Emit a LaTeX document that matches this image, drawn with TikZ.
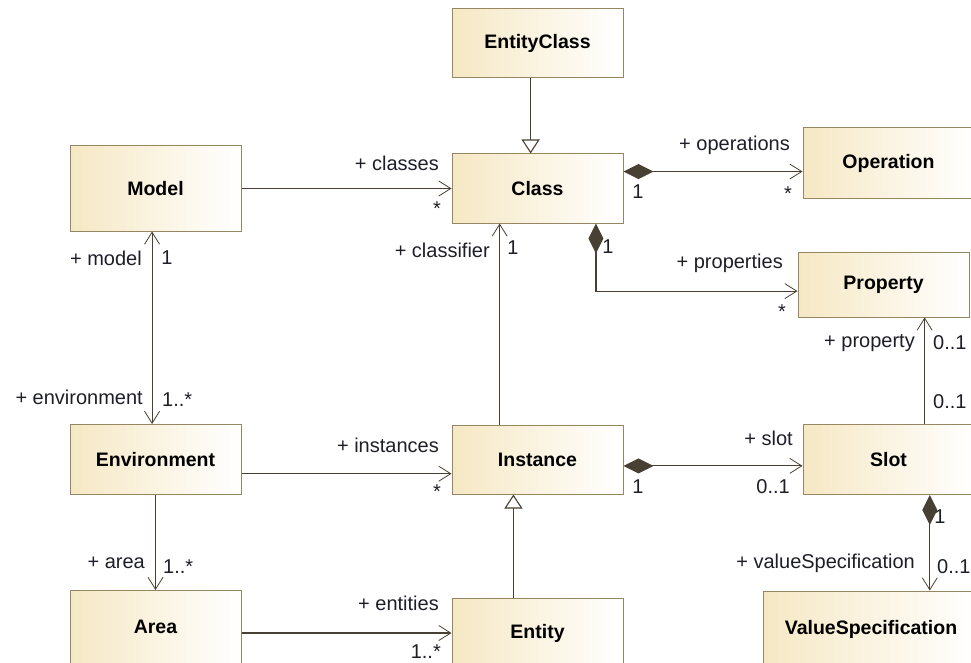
\documentclass[tikz,border=0pt]{standalone}
\usepackage{fontspec}
\setsansfont{Liberation Sans}
\usetikzlibrary{positioning}
\usetikzlibrary{arrows.meta}
\usetikzlibrary{calc}
\definecolor{umlfill}{RGB}{246,232,196}
\definecolor{umlborder}{RGB}{150,135,100}
\definecolor{umlline}{RGB}{72,64,50}
\definecolor{umltext}{RGB}{30,30,40}
\tikzset{%
	% Specifications for style of nodes:
	umlclass/.style = {rectangle, draw=umlborder, line width=1pt,
		left color=umlfill, right color=white,
		minimum width=171pt, minimum height=69pt, inner sep=0pt,
		font=\sffamily\bfseries\fontsize{19.5}{22}\selectfont},
	role/.style = {inner sep=0pt, text=umltext,
		font=\sffamily\fontsize{20}{22}\selectfont},
	assoc/.style = {draw=umlline, line width=1.1pt},
	barb/.tip = {Straight Barb[length=12pt, width=15pt, line width=0.8pt]},
	comp/.tip = {Diamond[length=30pt, width=15pt]},
	gen/.tip = {Triangle[length=14pt, width=18pt, fill=white]},
}
\begin{document}
\begin{tikzpicture}[x=1pt, y=-1pt]
\useasboundingbox (0,0) rectangle (971,663);

\node (class) [umlclass] at (537.5,188.5) {Class};
\node (entityclass) [umlclass, above=75pt of class] {EntityClass};
\node (model) [umlclass, minimum height=85pt, left=210pt of class] {Model};
\node (operation) [umlclass, minimum height=70pt, right=179pt of class, yshift=25.5pt] {Operation};
\node (property) [umlclass, minimum height=65pt, right=174pt of class, yshift=-96pt] {Property};
\node (instance) [umlclass, below=201pt of class] {Instance};
\node (environment) [umlclass, minimum height=70pt, left=210pt of instance] {Environment};
\node (slot) [umlclass, minimum height=70pt, right=179pt of instance] {Slot};
\node (area) [umlclass, minimum height=73pt, below=95pt of environment] {Area};
\node (entity) [umlclass, minimum height=70pt, below=103pt of instance] {Entity};
\node (valuespec) [umlclass, minimum width=216pt, minimum height=76pt,
	below=95.5pt of slot.south west, anchor=north west, xshift=-40pt] {ValueSpecification};

\coordinate (ecFoot) at ($(entityclass.south west)!0.46!(entityclass.south east)$);
\coordinate (opIn) at ($(operation.north west)!0.62!(operation.south west)$);
\coordinate (clFoot) at ($(class.south west)!0.84!(class.south east)$);
\coordinate (propIn) at ($(property.north west)!0.6!(property.south west)$);
\coordinate (instTop) at ($(instance.north west)!0.28!(instance.north east)$);
\coordinate (envOut) at ($(environment.north east)!0.7!(environment.south east)$);
\coordinate (slotIn) at ($(slot.north west)!0.59!(slot.south west)$);
\coordinate (slotTop) at ($(slot.north west)!0.71!(slot.north east)$);
\coordinate (slotFoot) at ($(slot.south west)!0.74!(slot.south east)$);
\coordinate (modelFoot) at ($(model.south west)!0.48!(model.south east)$);
\coordinate (entTop) at ($(entity.north west)!0.36!(entity.north east)$);

\draw[assoc, -gen] (ecFoot) -- (ecFoot |- class.north);
\draw[assoc, -barb] (model.east) -- (model.east -| class.west);
\draw[assoc, comp-barb] (opIn -| class.east) -- (opIn);
\draw[assoc, comp-barb] (clFoot) |- (propIn);
\draw[assoc, -barb] (instTop) -- (instTop |- class.south);
\draw[assoc, barb-barb] (modelFoot) -- (modelFoot |- environment.north);
\draw[assoc, -barb] (envOut) -- (envOut -| instance.west);
\draw[assoc, comp-barb] (slotIn -| instance.east) -- (slotIn);
\draw[assoc, -barb] (slotTop) -- (slotTop |- property.south);
\draw[assoc, comp-barb] (slotFoot) -- (slotFoot |- valuespec.north);
\draw[assoc, -barb] (environment.south) -- (area.north);
\draw[assoc, -barb] (entity.west -| area.east) -- (entity.west);
\draw[assoc, -gen] (entTop) -- (entTop |- instance.south);

\node (rClasses) [role, anchor=east] at (439,163) {+ classes};
\node (mClasses) [role] at (437,209) {*};
\node (rOperations) [role, anchor=east] at (790,145) {+ operations};
\node (mOpOwner) [role] at (638,192) {1};
\node (mOperations) [role] at (788,194) {*};
\node (mPropOwner) [role] at (608,247) {1};
\node (rProperties) [role, anchor=east] at (783,263) {+ properties};
\node (mProperties) [role] at (782,312) {*};
\node (rClassifier) [role, anchor=east] at (490,250) {+ classifier};
\node (mClassifier) [role] at (513,248) {1};
\node (rModel) [role, anchor=east] at (142,258) {+ model};
\node (mModel) [role] at (167,258) {1};
\node (rEnvironment) [role, anchor=east] at (143,397) {+ environment};
\node (mEnvironment) [role, anchor=west] at (162,400) {1..*};
\node (rInstances) [role, anchor=east] at (439,445) {+ instances};
\node (mInstances) [role] at (437,492) {*};
\node (rProperty) [role, anchor=east] at (915,343) {+ property};
\node (mProperty) [role, anchor=west] at (933,343) {0..1};
\node (mSlotProp) [role, anchor=west] at (933,402) {0..1};
\node (rSlot) [role, anchor=east] at (793,438) {+ slot};
\node (mSlotOwner) [role] at (638,487) {1};
\node (mSlot) [role, anchor=east] at (790,487) {0..1};
\node (mValueOwner) [role] at (940,517) {1};
\node (rValueSpec) [role, anchor=east] at (915,563) {+ valueSpecification};
\node (mValueSpec) [role, anchor=west] at (937,567) {0..1};
\node (rArea) [role, anchor=east] at (145,563) {+ area};
\node (mArea) [role, anchor=west] at (163,567) {1..*};
\node (rEntities) [role, anchor=east] at (439,603) {+ entities};
\node (mEntities) [role, anchor=east] at (441,652) {1..*};
\end{tikzpicture}
\end{document}
